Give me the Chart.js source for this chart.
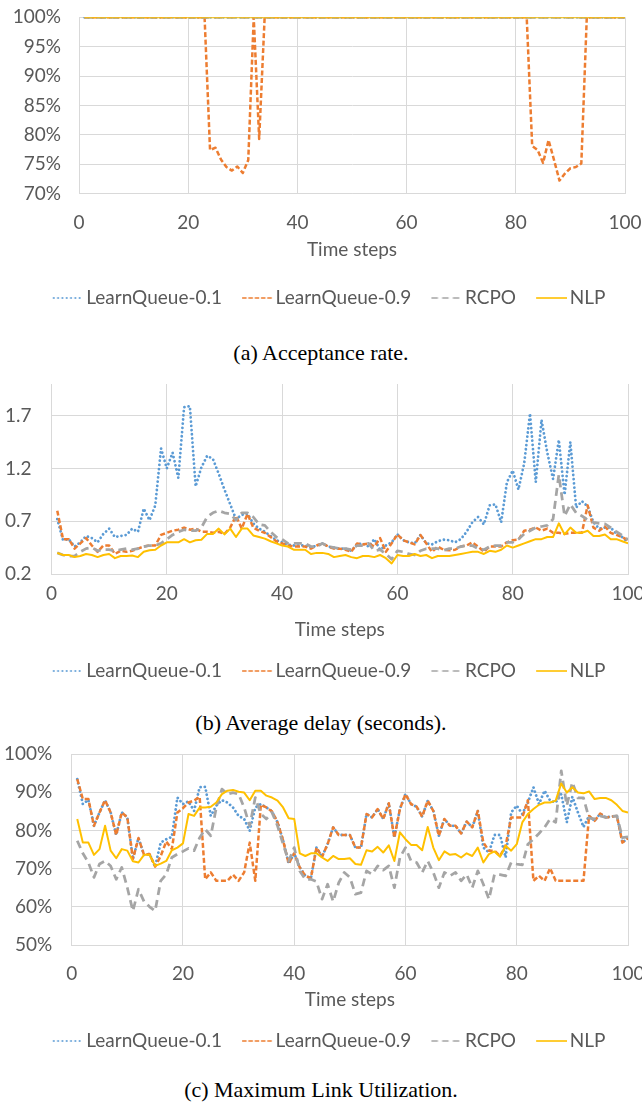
<!DOCTYPE html>
<html><head><meta charset="utf-8">
<script src="https://cdn.jsdelivr.net/npm/chart.js@4/dist/chart.umd.min.js"></script>
<style>
html,body{margin:0;padding:0;background:#fff;}
body{width:642px;height:1107px;position:relative;overflow:hidden;}
canvas{position:absolute;left:0;}
.cap{position:absolute;left:0;width:642px;text-align:center;font-family:"Liberation Serif","Times New Roman",serif;font-size:22px;line-height:26px;color:#000;}
</style></head><body>
<canvas id="cA"></canvas>
<div class="cap" id="capA">(a) Acceptance rate.</div>
<canvas id="cB"></canvas>
<div class="cap" id="capB">(b) Average delay (seconds).</div>
<canvas id="cC"></canvas>
<div class="cap" id="capC">(c) Maximum Link Utilization.</div>
<script>
// ---------- data ----------
const steps = [1,2,3,4,5,6,7,8,9,10,11,12,13,14,15,16,17,18,19,20,21,22,23,24,25,26,27,28,29,30,31,32,33,34,35,36,37,38,39,40,41,42,43,44,45,46,47,48,49,50,51,52,53,54,55,56,57,58,59,60,61,62,63,64,65,66,67,68,69,70,71,72,73,74,75,76,77,78,79,80,81,82,83,84,85,86,87,88,89,90,91,92,93,94,95,96,97,98,99,100];
const seriesNames = ['LearnQueue-0.1','LearnQueue-0.9','RCPO','NLP'];
const xAxisTitle = 'Time steps';
const xTickValues = [0,20,40,60,80,100];
const accYTicks = [70,75,80,85,90,95,100];
const delayYTicks = [0.2,0.7,1.2,1.7];
const mluYTicks = [50,60,70,80,90,100];

const accLQ01 = [100,100,100,100,100,100,100,100,100,100,100,100,100,100,100,100,100,100,100,100,100,100,100,100,100,100,100,100,100,100,100,100,100,100,100,100,100,100,100,100,100,100,100,100,100,100,100,100,100,100,100,100,100,100,100,100,100,100,100,100,100,100,100,100,100,100,100,100,100,100,100,100,100,100,100,100,100,100,100,100,100,100,100,100,100,100,100,100,100,100,100,100,100,100,100,100,100,100,100,100];
const accLQ09 = [100,100,100,100,100,100,100,100,100,100,
 100,100,100,100,100,100,100,100,100,100,
 100,100,100,77.4,77.8,75.8,74.5,73.9,74.6,73.5,
 75.7,100,79.3,100,100,100,100,100,100,100,
 100,100,100,100,100,100,100,100,100,100,
 100,100,100,100,100,100,100,100,100,100,
 100,100,100,100,100,100,100,100,100,100,
 100,100,100,100,100,100,100,100,100,100,
 100,100,78.1,77.4,75.2,79.1,75.7,72.2,73.4,74.3,
 74.5,75.1,100,100,100,100,100,100,100,100];
const accRCPO = [100,100,100,100,100,100,100,100,100,100,100,100,100,100,100,100,100,100,100,100,100,100,100,100,100,100,100,100,100,100,100,100,100,100,100,100,100,100,100,100,100,100,100,100,100,100,100,100,100,100,100,100,100,100,100,100,100,100,100,100,100,100,100,100,100,100,100,100,100,100,100,100,100,100,100,100,100,100,100,100,100,100,100,100,100,100,100,100,100,100,100,100,100,100,100,100,100,100,100,100];
const accNLP = [100,100,100,100,100,100,100,100,100,100,100,100,100,100,100,100,100,100,100,100,100,100,100,100,100,100,100,100,100,100,100,100,100,100,100,100,100,100,100,100,100,100,100,100,100,100,100,100,100,100,100,100,100,100,100,100,100,100,100,100,100,100,100,100,100,100,100,100,100,100,100,100,100,100,100,100,100,100,100,100,100,100,100,100,100,100,100,100,100,100,100,100,100,100,100,100,100,100,100,100];

const delLQ01 = [0.72,0.52,0.53,0.46,0.50,0.56,0.54,0.50,0.58,0.63,
 0.55,0.56,0.57,0.63,0.60,0.82,0.71,0.85,1.39,1.20,
 1.35,1.11,1.78,1.79,1.03,1.21,1.32,1.29,1.15,1.00,
 0.86,0.72,0.76,0.77,0.68,0.63,0.60,0.56,0.52,0.50,
 0.48,0.47,0.47,0.47,0.45,0.47,0.49,0.46,0.45,0.44,
 0.44,0.42,0.48,0.49,0.46,0.53,0.43,0.47,0.50,0.575,
 0.52,0.50,0.49,0.57,0.49,0.48,0.51,0.525,0.52,0.50,
 0.53,0.60,0.69,0.74,0.67,0.85,0.86,0.69,1.07,1.18,
 1.00,1.25,1.72,1.07,1.66,1.35,1.10,1.47,0.95,1.45,
 0.83,0.89,0.84,0.69,0.63,0.64,0.64,0.58,0.55,0.50];
const delLQ09 = [0.80,0.53,0.53,0.44,0.49,0.54,0.47,0.41,0.47,0.47,
 0.39,0.42,0.41,0.42,0.44,0.46,0.47,0.47,0.57,0.59,
 0.61,0.62,0.64,0.62,0.63,0.60,0.60,0.59,0.60,0.58,
 0.64,0.75,0.63,0.77,0.64,0.61,0.59,0.55,0.51,0.49,
 0.47,0.46,0.46,0.46,0.44,0.47,0.49,0.46,0.44,0.44,
 0.43,0.41,0.49,0.48,0.49,0.46,0.54,0.41,0.49,0.575,
 0.52,0.50,0.48,0.57,0.49,0.41,0.46,0.43,0.425,0.43,
 0.46,0.47,0.50,0.46,0.41,0.46,0.46,0.46,0.50,0.52,
 0.525,0.61,0.62,0.64,0.61,0.63,0.59,0.59,0.58,0.59,
 0.59,0.59,0.85,0.64,0.61,0.65,0.59,0.57,0.55,0.52];
const delRCPO = [0.40,0.38,0.37,0.37,0.41,0.44,0.45,0.42,0.43,0.43,
 0.42,0.43,0.44,0.43,0.44,0.46,0.47,0.47,0.49,0.53,
 0.57,0.60,0.62,0.61,0.61,0.64,0.74,0.78,0.80,0.78,
 0.77,0.71,0.78,0.78,0.74,0.67,0.66,0.60,0.55,0.53,
 0.49,0.49,0.49,0.49,0.46,0.46,0.49,0.46,0.45,0.44,
 0.44,0.43,0.47,0.47,0.49,0.42,0.43,0.39,0.34,0.42,
 0.41,0.39,0.38,0.42,0.44,0.44,0.44,0.425,0.44,0.44,
 0.46,0.47,0.47,0.44,0.43,0.46,0.47,0.47,0.50,0.50,
 0.53,0.58,0.61,0.64,0.65,0.66,0.72,1.14,0.75,0.86,
 0.78,0.75,0.71,0.69,0.68,0.675,0.64,0.60,0.565,0.525];
const delNLP = [0.40,0.38,0.38,0.36,0.37,0.39,0.38,0.36,0.38,0.39,
 0.35,0.37,0.37,0.375,0.36,0.41,0.425,0.43,0.47,0.50,
 0.50,0.50,0.53,0.50,0.52,0.525,0.58,0.58,0.63,0.575,
 0.63,0.55,0.63,0.63,0.565,0.55,0.535,0.51,0.49,0.47,
 0.46,0.43,0.43,0.43,0.39,0.40,0.40,0.39,0.36,0.37,
 0.38,0.36,0.35,0.37,0.37,0.36,0.38,0.35,0.30,0.38,
 0.37,0.37,0.39,0.37,0.38,0.35,0.37,0.37,0.37,0.38,
 0.39,0.40,0.41,0.41,0.39,0.42,0.41,0.43,0.47,0.45,
 0.47,0.49,0.51,0.53,0.53,0.55,0.55,0.68,0.575,0.64,
 0.59,0.59,0.61,0.56,0.56,0.575,0.53,0.53,0.51,0.49];

const mluLQ01 = [93.4,86.9,88.0,81.2,84.7,87.9,84.7,78.8,84.7,83.4,
 72.5,78.0,73.6,73.8,70.5,76.8,77.7,78.3,88.6,86.9,
 87.6,85.1,91.3,91.4,83.8,86.5,87.9,87.3,86.0,83.8,
 83.0,79.9,86.0,86.9,86.0,85.0,82.1,77.4,71.3,74.0,
 70.3,68.1,67.5,75.5,73.1,76.4,80.8,78.8,78.8,78.8,
 75.5,75.5,84.3,83.4,85.6,83.0,87.1,78.1,85.6,89.5,
 86.9,86.2,83.6,87.8,85.1,78.6,83.0,81.2,81.2,79.2,
 82.3,80.8,85.1,75.5,74.2,78.8,78.8,72.9,84.7,86.5,
 84.3,87.3,91.3,86.9,90.4,87.8,87.3,89.5,82.1,88.8,
 84.7,80.9,83.8,82.5,84.4,83.4,83.6,83.8,76.8,78.0];
const mluLQ09 = [93.4,88.2,88.2,81.2,84.7,87.9,84.7,78.8,84.7,83.4,
 72.5,78.0,73.6,73.8,70.5,73.3,77.1,75.1,84.7,85.8,
 87.3,87.8,88.8,67.2,69.0,66.8,66.8,66.8,68.4,66.8,
 69.0,76.8,66.8,86.7,86.0,85.0,82.1,77.4,71.3,74.0,
 70.3,68.1,67.5,75.5,73.1,76.4,80.8,78.8,78.8,78.8,
 75.5,75.5,84.3,83.4,85.6,83.0,87.1,78.1,85.6,89.5,
 86.9,86.2,83.6,87.8,85.1,78.6,83.0,81.2,81.2,79.2,
 82.3,80.8,85.1,76.8,74.7,74.7,73.3,76.0,83.4,83.4,
 83.4,87.9,66.8,68.1,66.8,70.1,66.8,66.8,66.8,66.8,
 66.8,66.8,83.8,82.5,84.4,83.4,83.6,83.8,76.8,78.0];
const mluRCPO = [77.3,74.0,71.6,67.7,71.2,72.0,70.7,67.2,70.3,65.0,
 58.9,64.6,61.4,60.0,58.9,66.8,68.5,72.9,73.8,74.5,
 75.3,74.7,78.1,80.3,78.6,86.0,90.8,89.5,89.9,89.5,
 86.0,81.2,88.6,84.3,83.0,84.7,81.2,76.4,72.0,75.5,
 69.4,67.2,67.2,66.6,62.0,65.9,61.4,66.3,69.0,67.7,
 63.3,63.7,69.4,68.5,70.7,69.6,70.7,65.0,72.9,75.5,
 72.0,71.6,69.0,72.0,69.0,65.0,69.0,68.1,69.0,66.8,
 68.5,65.0,69.4,65.9,62.0,68.5,68.4,68.1,71.6,71.2,
 71.0,76.4,77.7,79.2,80.8,83.0,82.1,95.6,86.5,92.6,
 88.5,88.5,83.2,83.0,83.8,83.4,83.6,83.8,78.1,78.3];
const mluNLP = [83.0,76.8,76.8,73.6,75.1,81.2,74.7,72.7,75.1,74.7,
 71.9,71.6,73.6,73.6,70.7,71.3,72.0,74.8,75.5,76.6,
 84.3,83.8,86.0,86.0,86.2,87.3,89.5,90.4,90.6,90.1,
 89.9,87.9,90.4,90.4,89.1,88.6,87.8,86.0,83.2,83.0,
 74.0,73.3,74.0,74.0,72.9,72.0,73.3,72.5,72.5,72.7,
 71.2,71.0,74.8,74.5,75.7,74.2,76.1,72.0,79.5,77.7,
 76.2,76.2,74.8,80.9,75.5,72.2,74.5,73.6,73.8,72.9,
 74.0,73.3,75.5,71.6,73.8,74.5,73.1,76.0,74.7,76.4,
 82.1,84.3,85.6,86.7,87.3,87.3,87.8,92.3,89.9,91.3,
 89.9,89.7,90.2,88.2,88.5,88.5,87.9,86.7,85.1,84.7];

// ---------- styles ----------
const FS = 19;
const FONT = {family: 'Lato, Carlito, Calibri, sans-serif', size: FS};
const TXT = '#595959';
const GRID = '#D9D9D9';
const styles = [
  {color:'#5B9BD5', width:2.8, dash:[0.01,4.2], cap:'round', lw:2.0, ldash:[0.01,4.3], lcap:'round'},
  {color:'#ED7D31', width:2.5, dash:[5,2.5], cap:'butt', lw:1.6, ldash:[4.5,1.8], lcap:'butt'},
  {color:'#A5A5A5', width:2.75, dash:[8,5], cap:'butt', lw:1.6, ldash:[6.5,4.2], lcap:'butt'},
  {color:'#FFC000', width:2, dash:[], cap:'butt', lw:1.6, ldash:[], lcap:'butt'}
];
const drawOrder = [3,2,1,0];

// legend marker geometry: 31px line, 2.6px gap before text
const MARK = 31, GAP = 2.6, HALF = FS / 2;
const BOXW = MARK + GAP - HALF;
const IMGW = BOXW + 2 * (MARK - BOXW);
function markerImage(st) {
  const c = document.createElement('canvas');
  c.width = Math.round(IMGW); c.height = 8;
  const ctx = c.getContext('2d');
  ctx.strokeStyle = st.color; ctx.lineWidth = st.lw; ctx.lineCap = st.lcap;
  ctx.setLineDash(st.ldash);
  ctx.beginPath();
  const x0 = c.width - MARK + (st.lcap === 'round' ? 1 : 0);
  ctx.moveTo(x0, 4); ctx.lineTo(c.width, 4); ctx.stroke();
  return c;
}
const markers = styles.map(markerImage);

const shiftLegend = {
  id: 'shiftLegend',
  afterLayout(chart, args, opts) {
    const lg = chart.legend;
    if (lg) { lg.left += opts.dx; lg.right += opts.dx; }
  }
};

function build(canvasId, g, seriesArr, yScale) {
  const LP = 20, LH = FS * 1.2, LEGH = FS + LP + 10;
  const T = Math.floor(g.plotTop) - 14;
  const legendTop = g.legendY - LP - FS / 2;
  const H = Math.ceil(legendTop + LEGH - T);
  const padBottom = H - (legendTop + LEGH - T);
  const R = 642 - g.plotRight;
  const dx = 329 - (642 - R) / 2;
  const cv = document.getElementById(canvasId);
  cv.width = 642; cv.height = H; cv.style.top = T + 'px';
  cv.style.width = '642px'; cv.style.height = H + 'px';
  const datasets = seriesArr.map((arr, i) => ({
    label: seriesNames[i],
    data: steps.map((x, k) => ({x: x, y: arr[k]})),
    borderColor: styles[i].color,
    backgroundColor: styles[i].color,
    borderWidth: styles[i].width,
    borderDash: styles[i].dash,
    borderCapStyle: styles[i].cap,
    borderJoinStyle: 'round',
    pointRadius: 0,
    tension: 0,
    fill: false,
    order: drawOrder[i]
  }));
  return new Chart(cv, {
    type: 'line',
    data: {datasets},
    plugins: [shiftLegend],
    options: {
      responsive: false, animation: false, events: [],
      layout: {padding: {top: g.plotTop - T, right: R, left: 0, bottom: padBottom}},
      plugins: {
        shiftLegend: {dx: dx},
        tooltip: {enabled: false},
        legend: {
          position: 'bottom',
          labels: {
            usePointStyle: true, pointStyleWidth: BOXW, padding: LP,
            font: FONT, color: TXT,
            generateLabels: (chart) => chart.data.datasets.map((ds, i) => ({
              text: ds.label, strokeStyle: styles[i].color, fillStyle: styles[i].color,
              lineWidth: 0, pointStyle: markers[i], fontColor: TXT, hidden: false, datasetIndex: i
            }))
          }
        }
      },
      scales: {
        x: {
          type: 'linear', min: 0, max: 100,
          afterBuildTicks: (s) => { s.ticks = xTickValues.map(v => ({value: v})); },
          afterFit: (s) => { s.height = legendTop - g.plotBottom; s.paddingLeft = 0; s.paddingRight = 0; },
          grid: {color: GRID, lineWidth: 1, drawTicks: false},
          border: {color: GRID, width: 1},
          ticks: {font: FONT, color: TXT, padding: g.labelY + 1 - g.plotBottom - LH / 2, maxRotation: 0, autoSkip: false},
          title: {display: true, text: xAxisTitle, font: FONT, color: TXT, padding: {top: 0, bottom: legendTop - g.titleY - LH / 2}}
        },
        y: {
          type: 'linear', min: yScale.min, max: yScale.max,
          afterBuildTicks: (s) => { s.ticks = yScale.ticks.map(v => ({value: v})); },
          afterFit: (s) => { s.width = g.plotLeft; s.paddingTop = 0; s.paddingBottom = 0; },
          grid: {color: GRID, lineWidth: 1, drawTicks: false},
          border: {color: GRID, width: 1},
          ticks: {font: FONT, color: TXT, padding: g.yPad, autoSkip: false, callback: yScale.fmt}
        }
      }
    }
  });
}

function placeCaption(id, y) {
  document.getElementById(id).style.top = (y - 13) + 'px';
}

build('cA', {plotTop: 17.3, plotBottom: 193.5, plotLeft: 79, plotRight: 625, labelY: 221.7, titleY: 250, legendY: 298, yPad: 18},
  [accLQ01, accLQ09, accRCPO, accNLP],
  {min: 70, max: 100, ticks: accYTicks, fmt: v => v + '%'});
build('cB', {plotTop: 384, plotBottom: 574, plotLeft: 51.5, plotRight: 628, labelY: 593, titleY: 630, legendY: 671, yPad: 20},
  [delLQ01, delLQ09, delRCPO, delNLP],
  {min: 0.2, max: 2.0, ticks: delayYTicks, fmt: v => v.toFixed(1)});
build('cC', {plotTop: 754, plotBottom: 945, plotLeft: 71.7, plotRight: 628, labelY: 973, titleY: 1000, legendY: 1041, yPad: 19.5},
  [mluLQ01, mluLQ09, mluRCPO, mluNLP],
  {min: 50, max: 100, ticks: mluYTicks, fmt: v => v + '%'});
placeCaption('capA', 353);
placeCaption('capB', 723);
placeCaption('capC', 1090);
</script>
</body></html>
